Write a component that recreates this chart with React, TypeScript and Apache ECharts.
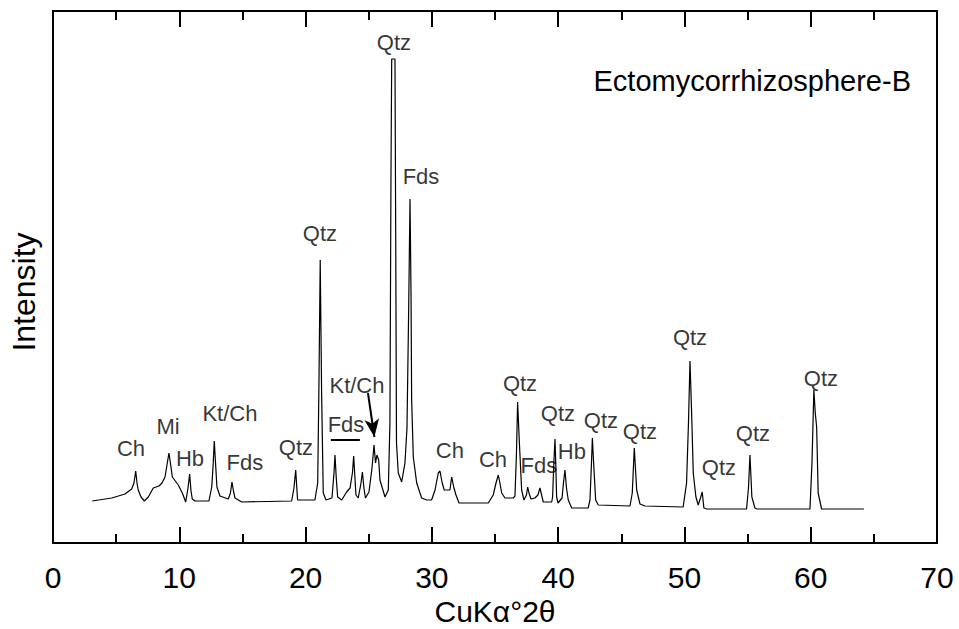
import React, { useEffect, useRef } from "react";
import * as echarts from "echarts";

// XRD pattern: [2θ (deg), intensity (arb. units)]
const xrdPattern: [number, number][] = [
  [3.11, 42], [4.65, 45], [5.7, 49], [6.23, 54], [6.41, 60], [6.55, 72], [6.65, 60], [6.75, 53], [6.97, 46],
  [7.23, 42], [7.55, 46], [7.94, 55], [8.39, 57], [8.63, 60], [8.87, 66], [9.05, 80], [9.18, 90], [9.32, 78],
  [9.45, 66], [9.92, 58], [10.24, 50], [10.51, 41], [10.69, 55], [10.82, 69], [10.93, 52], [11.03, 44],
  [11.24, 42], [12.35, 42], [12.57, 56], [12.69, 80], [12.77, 102], [12.87, 80], [12.98, 56], [13.22, 47],
  [13.88, 44], [14.05, 50], [14.17, 61], [14.29, 52], [14.41, 45], [14.94, 41], [18.9, 42], [19.08, 55],
  [19.22, 73], [19.32, 52], [19.37, 43], [20.74, 43], [20.96, 60], [21.06, 160], [21.16, 283], [21.27, 150],
  [21.4, 50], [21.62, 43], [22.09, 45], [22.25, 70], [22.33, 88], [22.43, 65], [22.54, 46], [22.86, 43],
  [23.25, 51], [23.52, 55], [23.71, 70], [23.81, 87], [23.91, 65], [23.99, 48], [24.17, 45], [24.39, 60],
  [24.5, 71], [24.62, 55], [24.74, 45], [25.02, 51], [25.26, 75], [25.42, 98], [25.54, 80], [25.65, 88],
  [25.79, 83], [25.89, 63], [26.29, 46], [26.55, 53], [26.68, 120], [26.76, 360], [26.82, 484], [27.08, 484],
  [27.14, 300], [27.2, 100], [27.34, 70], [27.61, 61], [27.87, 80], [28.03, 115], [28.16, 230], [28.27, 344],
  [28.35, 250], [28.4, 143], [28.53, 86], [28.8, 60], [29.19, 45], [29.59, 43], [29.98, 43], [30.25, 53],
  [30.51, 70], [30.64, 72], [30.82, 60], [30.98, 53], [31.43, 53], [31.57, 66], [31.73, 56], [31.91, 48],
  [32.15, 40], [34.47, 40], [34.86, 48], [35.08, 60], [35.26, 68], [35.39, 60], [35.53, 50], [35.79, 45],
  [36.45, 45], [36.58, 47], [36.7, 90], [36.79, 141], [36.92, 103], [37.11, 53], [37.29, 43], [37.49, 48],
  [37.59, 56], [37.69, 50], [37.85, 44], [38.16, 45], [38.4, 48], [38.56, 55], [38.69, 48], [38.82, 41],
  [39.49, 41], [39.56, 46], [39.66, 80], [39.75, 104], [39.81, 80], [39.88, 46], [39.99, 40], [40.31, 45],
  [40.42, 60], [40.54, 73], [40.66, 55], [40.8, 43], [41.07, 35], [42.38, 35], [42.52, 43], [42.64, 80],
  [42.71, 105], [42.81, 80], [42.97, 43], [43.18, 38], [45.69, 37], [45.87, 50], [46.03, 95], [46.22, 53],
  [46.48, 39], [46.87, 37], [49.9, 36], [50.17, 60], [50.32, 120], [50.44, 182], [50.57, 130], [50.7, 70],
  [50.91, 46], [51.09, 38], [51.27, 45], [51.41, 51], [51.54, 35], [51.76, 34], [54.92, 34], [55.07, 55],
  [55.19, 88], [55.34, 46], [55.58, 35], [55.74, 34], [59.94, 34], [60.1, 80], [60.25, 153], [60.36, 130],
  [60.47, 116], [60.59, 50], [60.86, 34], [64.21, 34],
];

// Mineral peak labels (text, 2θ position, intensity position)
const labelNames = ["Ch", "Mi", "Hb", "Kt/Ch", "Fds", "Qtz", "Qtz", "Fds", "Kt/Ch", "Qtz", "Fds", "Ch", "Ch", "Qtz", "Fds", "Qtz", "Hb", "Qtz", "Qtz", "Qtz", "Qtz", "Qtz", "Qtz"];
const labelX = [6.18, 9.11, 10.85, 14.01, 15.2, 19.24, 21.14, 23.2, 24.07, 27.0, 29.14, 31.43, 34.84, 36.98, 38.48, 39.98, 41.09, 43.39, 46.48, 50.44, 52.73, 55.42, 60.81];
const labelY = [95, 117, 85, 130, 81, 96, 310, 119, 158, 501, 367, 93, 84, 160, 78, 130, 92, 123, 112, 206, 76, 110, 165];

// Axis
const xMin = 0;
const xMax = 70;
const xStep = 10;
const yMin = 0;
const yMax = 532;

const FONT = "'Liberation Sans', Arial, Helvetica, sans-serif";

export default function App() {
  const ref = useRef<HTMLDivElement>(null);
  useEffect(() => {
    if (!ref.current) return;
    const chart = echarts.init(ref.current, null, { renderer: "svg" });
    const labelData = labelNames.map((n, i) => ({ name: n, value: [labelX[i], labelY[i]] }));
    const xCommon = {
      type: "value" as const,
      min: xMin,
      max: xMax,
      interval: xStep,
      splitLine: { show: false },
      axisLine: { show: true, onZero: false, lineStyle: { color: "#000", width: 2 } },
      axisTick: { show: true, inside: true, length: 16, lineStyle: { color: "#000", width: 2 } },
      minorTick: { show: true, splitNumber: 2, length: 9, lineStyle: { color: "#000", width: 2 } },
    };
    chart.setOption({
      animation: false,
      backgroundColor: "#fff",
      title: {
        text: "Ectomycorrhizosphere-B",
        right: 43,
        top: 61,
        textStyle: { fontSize: 29, fontWeight: "normal", color: "#000", fontFamily: FONT },
      },
      graphic: [
        {
          type: "text",
          x: 24,
          y: 292,
          rotation: Math.PI / 2,
          style: {
            text: "Intensity",
            fill: "#000",
            font: `32px ${FONT}`,
            textAlign: "center",
            textVerticalAlign: "middle",
          },
        },
      ],
      grid: { left: 53, right: 22, top: 11, bottom: 86, outerBoundsMode: "none" },
      xAxis: [
        {
          ...xCommon,
          position: "bottom",
          name: "CuKα°2θ",
          nameLocation: "middle",
          nameGap: 41,
          nameTextStyle: { fontSize: 30, color: "#000", fontFamily: FONT },
          axisLabel: { show: true, margin: 19, fontSize: 30, color: "#000", fontFamily: FONT },
        },
        {
          ...xCommon,
          position: "top",
          axisLabel: { show: false },
        },
      ],
      yAxis: [
        {
          type: "value",
          min: yMin,
          max: yMax,
          position: "left",
          splitLine: { show: false },
          axisLine: { show: true, onZero: false, lineStyle: { color: "#000", width: 2 } },
          axisTick: { show: false },
          axisLabel: { show: false },
        },
        {
          type: "value",
          min: yMin,
          max: yMax,
          position: "right",
          splitLine: { show: false },
          axisLine: { show: true, onZero: false, lineStyle: { color: "#000", width: 2 } },
          axisTick: { show: false },
          axisLabel: { show: false },
        },
      ],
      series: [
        {
          type: "line",
          data: xrdPattern,
          showSymbol: false,
          symbol: "none",
          lineStyle: { color: "#000", width: 1.2 },
          silent: true,
        },
        {
          type: "scatter",
          data: labelData,
          symbolSize: 1,
          itemStyle: { color: "rgba(0,0,0,0)" },
          silent: true,
          label: {
            show: true,
            position: "inside",
            formatter: "{b}",
            color: "#000",
            fontSize: 22,
            fontFamily: FONT,
          },
          markLine: {
            silent: true,
            animation: false,
            label: { show: false },
            lineStyle: { color: "#000", width: 2, type: "solid" },
            data: [
              [
                { coord: [22.0, 103], symbol: "none" },
                { coord: [24.3, 103], symbol: "none" },
              ],
              [
                { coord: [24.94, 150], symbol: "none" },
                { coord: [25.45, 106], symbol: "arrow", symbolSize: [11, 18] },
              ],
            ],
          },
        },
      ],
    });
    return () => chart.dispose();
  }, []);
  return (
    <div
      ref={ref}
      style={{ position: "fixed", left: 0, top: 0, width: 959, height: 629, background: "#fff" }}
    />
  );
}
